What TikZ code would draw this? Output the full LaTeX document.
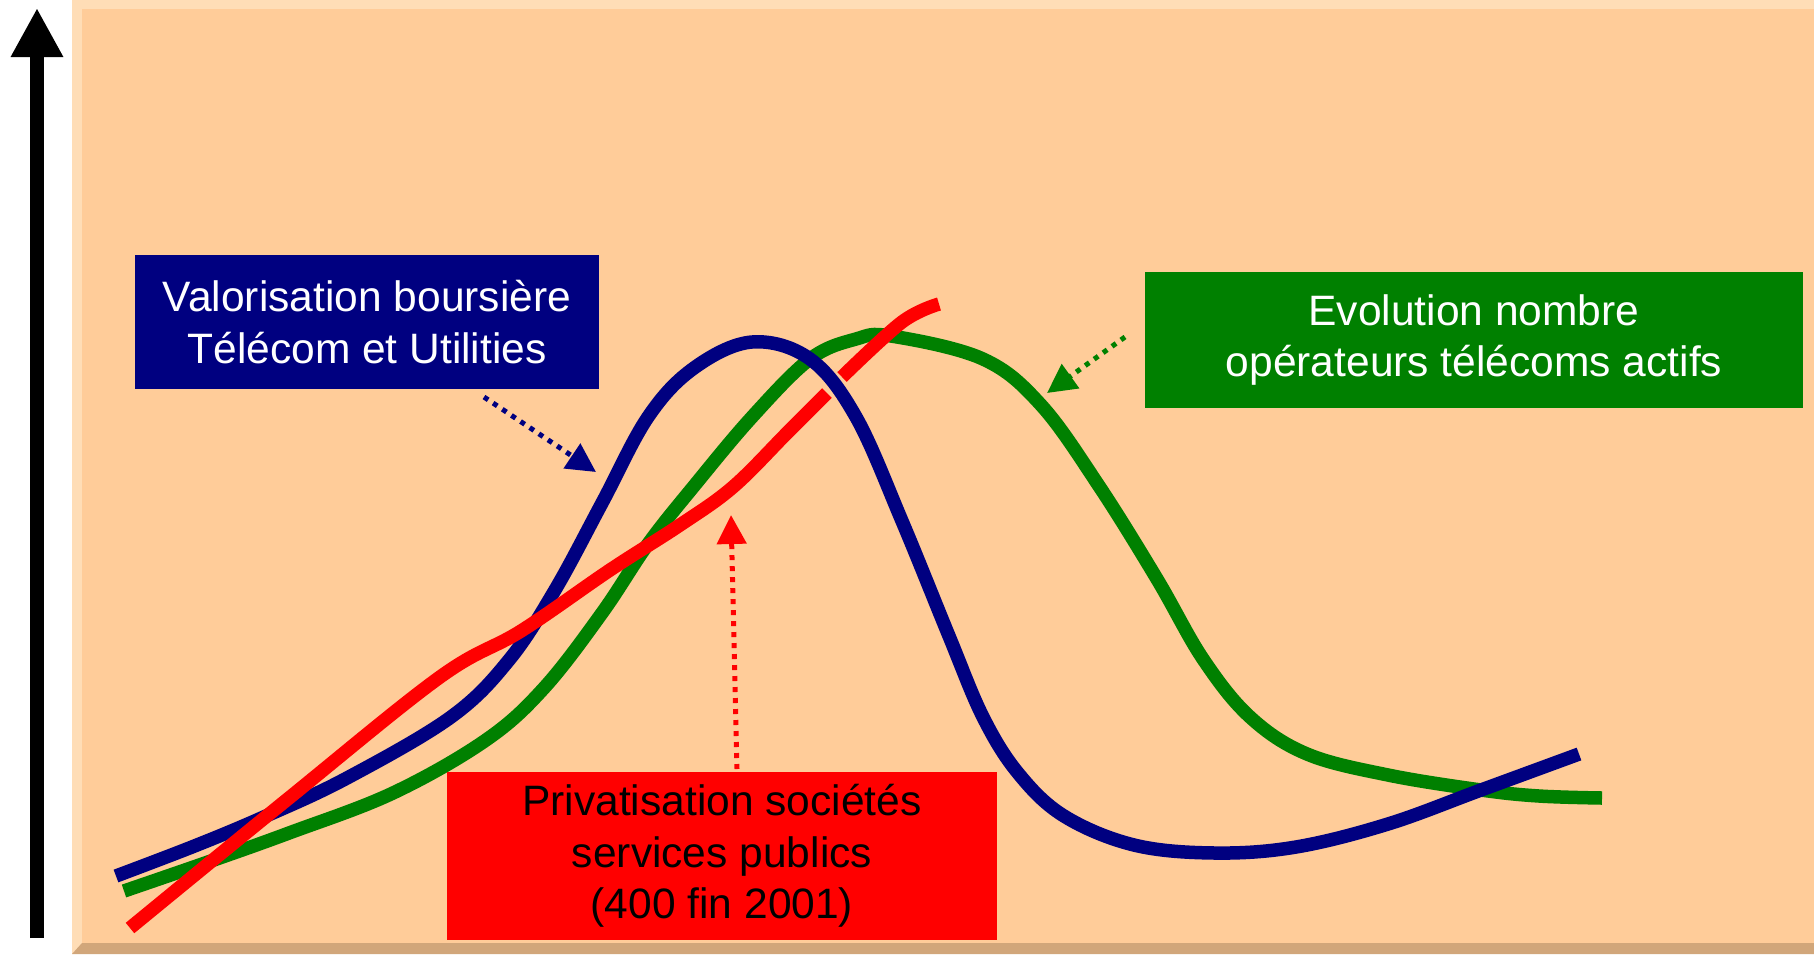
\documentclass[tikz,border=0pt]{standalone}
\usepackage{fontspec}
\setmainfont{Liberation Sans}
\usetikzlibrary{arrows.meta}
\definecolor{peach}{RGB}{255,204,153}
\definecolor{peachlight}{RGB}{255,221,182}
\definecolor{peachdark}{RGB}{209,166,122}
\definecolor{navyblue}{RGB}{0,0,128}
\definecolor{darkgreen}{RGB}{0,128,0}
\begin{document}
\begin{tikzpicture}[x=0.1mm, y=-0.1mm,
        curve/.style={line width=1.35mm},
        labelbox/.style={inner sep=0pt, align=center, font=\fontsize{12.1}{14.6}\selectfont},
        dotarrow/.style={line width=0.5mm, dash pattern=on 0.5mm off 0.6mm, -{Triangle[length=2.9mm, width=2.9mm]}}]
    \useasboundingbox (0,0) rectangle (1814,954);
    % background panel
    \fill[peachlight] (72,0) rectangle (1814,954);
    \fill[peachdark] (72,954) -- (82,943) -- (1814,943) -- (1814,954) -- cycle;
    \fill[peach] (82,9) rectangle (1814,943);
    % vertical axis
    \coordinate (axisbot) at (37,938);
    \coordinate (axistop) at (37,8);
    \draw[line width=1.4mm, -{Triangle[length=4.9mm, width=4.9mm]}] (axisbot) -- (axistop);
    % curves
    \draw[curve, darkgreen] plot[smooth, tension=0.6] coordinates {(124,891) (208,862) (289,833) (393,793) (486,740) (544,688) (602,613) (648,544) (694,486) (752,417) (810,359) (856,339) (891,336) (983,359) (1041,405) (1099,486) (1157,579) (1203,659) (1250,717) (1307,754) (1388,775) (1481,790) (1539,796) (1602,798)};
    \draw[curve, navyblue] plot[smooth, tension=0.6] coordinates {(116,876) (197,845) (266,816) (347,778) (451,717) (509,660) (555,590) (602,503) (648,417) (694,368) (752,342) (810,359) (856,417) (902,521) (949,636) (983,717) (1018,773) (1064,816) (1134,845) (1215,853) (1296,847) (1388,824) (1481,790) (1579,754)};
    \draw[curve, red] plot[smooth, tension=0.6] coordinates {(130,928) (289,798) (440,677) (521,631) (610,570) (680,525) (733,487) (787,433) (827,393)};
    \draw[curve, red] plot[smooth, tension=0.6] coordinates {(842,377) (902,322) (939,304)};
    % labels
    \node[labelbox, fill=navyblue, text=white, minimum width=46.4mm, minimum height=13.4mm] (valo) at (367,322) {Valorisation boursière\\Télécom et Utilities};
    \node[labelbox, fill=darkgreen, text=white, minimum width=65.8mm, minimum height=13.6mm] (evol) at (1474,340) {Evolution nombre\\opérateurs télécoms actifs};
    \node[labelbox, fill=red, text=black, minimum width=55mm, minimum height=16.8mm] (priv) at (722,856) {Privatisation sociétés\\services publics\\(400 fin 2001)};
    % pointers
    \coordinate (valotail) at (484,397);
    \coordinate (valotip) at (596,472);
    \coordinate (evoltail) at (1125,337);
    \coordinate (evoltip) at (1047,393);
    \coordinate (privtail) at (737,769);
    \coordinate (privtip) at (731,515);
    \draw[dotarrow, navyblue] (valotail) -- (valotip);
    \draw[dotarrow, darkgreen] (evoltail) -- (evoltip);
    \draw[dotarrow, red] (privtail) -- (privtip);
\end{tikzpicture}
\end{document}
